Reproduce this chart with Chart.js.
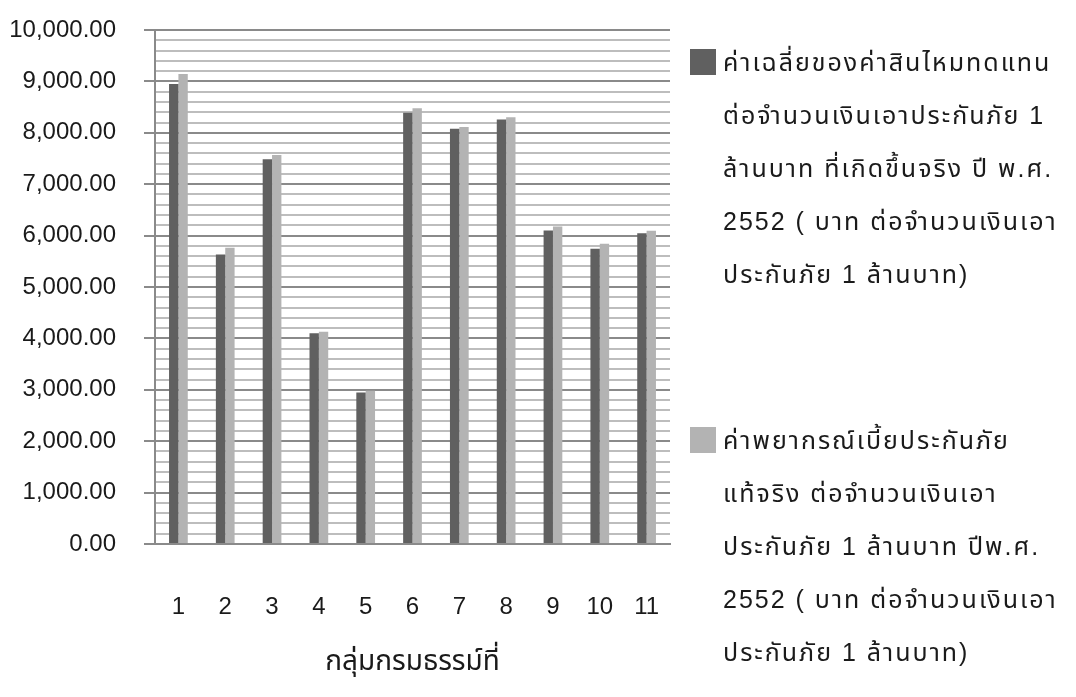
<!DOCTYPE html>
<html lang="th">
<head>
<meta charset="utf-8">
<title>กลุ่มกรมธรรม์</title>
<script src="https://cdn.jsdelivr.net/npm/chart.js@4.4.1/dist/chart.umd.min.js"></script>
<style>
  html, body { margin: 0; padding: 0; background: #fff; }
  #wrap { position: relative; width: 1076px; height: 697px; }
  #legend {
    position: absolute; left: 0; top: 0;
    font-family: "Liberation Sans", Arial, "Noto Sans Thai", "Loma", "Garuda", sans-serif;
    font-size: 25px; color: #1a1a1a; letter-spacing: 2px;
  }
  .item { position: absolute; left: 690px; }
  .box { position: absolute; left: 0; width: 26px; height: 26px; }
  .text { position: absolute; left: 33px; line-height: 53px; white-space: nowrap; }
</style>
</head>
<body>
<div id="wrap">
  <canvas id="grafica" width="1076" height="697"></canvas>
  <div id="legend"></div>
</div>
<script>
// กลุ่มกรมธรรม์ 1-11
const grupos = ['1', '2', '3', '4', '5', '6', '7', '8', '9', '10', '11'];

// ค่าเฉลี่ยสินไหมที่เกิดขึ้นจริง (บาท ต่อทุน 1 ล้านบาท)
const siniestroReal = [8947, 5633, 7485, 4100, 2949, 8388, 8080, 8261, 6101, 5745, 6045];

// ค่าพยากรณ์เบี้ยประกันภัยแท้จริง
const primaPronostico = [9142, 5764, 7570, 4127, 2982, 8478, 8115, 8304, 6177, 5842, 6094];

// ข้อความคำอธิบาย แบ่งบรรทัดไว้แล้ว
const etiquetaReal = [
  'ค่าเฉลี่ยของค่าสินไหมทดแทน',
  'ต่อจำนวนเงินเอาประกันภัย 1',
  'ล้านบาท ที่เกิดขึ้นจริง ปี พ.ศ.',
  '2552 ( บาท ต่อจำนวนเงินเอา',
  'ประกันภัย 1 ล้านบาท)'
];
const etiquetaPronostico = [
  'ค่าพยากรณ์เบี้ยประกันภัย',
  'แท้จริง ต่อจำนวนเงินเอา',
  'ประกันภัย 1 ล้านบาท ปีพ.ศ.',
  '2552 ( บาท ต่อจำนวนเงินเอา',
  'ประกันภัย 1 ล้านบาท)'
];

const tituloX = 'กลุ่มกรมธรรม์ที่';

const colorOscuro = '#606060';
const colorClaro  = '#b3b3b3';
const fuente = '"Liberation Sans", Arial, "Noto Sans Thai", "Loma", "Garuda", sans-serif';

// leyenda en HTML a la derecha (texto multilínea)
const leyendaHTML = {
  id: 'leyendaHTML',
  afterUpdate(chart) {
    const cont = document.getElementById('legend');
    cont.innerHTML = '';
    const tops = [36, 414];
    chart.data.datasets.forEach((ds, i) => {
      const item = document.createElement('div');
      item.className = 'item';
      item.style.top = tops[i] + 'px';
      const box = document.createElement('div');
      box.className = 'box';
      box.style.background = ds.backgroundColor;
      box.style.top = '13px';
      const txt = document.createElement('div');
      txt.className = 'text';
      txt.innerHTML = ds.label.join('<br>');
      item.appendChild(box);
      item.appendChild(txt);
      cont.appendChild(item);
    });
  }
};

new Chart(document.getElementById('grafica'), {
  type: 'bar',
  data: {
    labels: grupos,
    datasets: [
      { label: etiquetaReal, data: siniestroReal, backgroundColor: colorOscuro },
      { label: etiquetaPronostico, data: primaPronostico, backgroundColor: colorClaro }
    ]
  },
  options: {
    responsive: false,
    animation: false,
    categoryPercentage: 0.4,
    barPercentage: 1.0,
    layout: { padding: { top: 30, right: 406, left: 0, bottom: 0 } },
    plugins: {
      legend: { display: false },
      tooltip: { enabled: false }
    },
    scales: {
      x: {
        grid: { display: false, drawTicks: false },
        border: { color: '#8a8a8a', width: 2 },
        ticks: { color: '#1a1a1a', padding: 49, font: { family: fuente, size: 24 } },
        title: {
          display: true,
          text: tituloX,
          color: '#1a1a1a',
          font: { family: fuente, size: 28 },
          padding: { top: 0, bottom: 18 }
        },
        afterFit: (s) => { s.height = 153; }
      },
      y: {
        min: 0,
        max: 10000,
        // líneas menores cada 200, etiquetas sólo cada 1000
        ticks: {
          stepSize: 200,
          autoSkip: false,
          padding: 28,
          color: '#1a1a1a',
          font: { family: fuente, size: 24 },
          callback: (v) => v % 1000 === 0
            ? v.toLocaleString('en-US', { minimumFractionDigits: 2, maximumFractionDigits: 2 })
            : ''
        },
        grid: {
          lineWidth: 2,
          tickLength: 11,
          color: (c) => c.tick && c.tick.value % 1000 === 0 ? '#8a8a8a' : '#bdbdbd',
          tickColor: (c) => c.tick && c.tick.value % 1000 === 0 ? '#8a8a8a' : 'rgba(0,0,0,0)'
        },
        border: { color: '#8a8a8a', width: 2 },
        // ancho fijo del eje y sin relleno extra arriba/abajo
        afterFit: (s) => {
          s.width = 155;
          s.paddingTop = 0;
          s.paddingBottom = 0;
        }
      }
    }
  },
  plugins: [leyendaHTML]
});
</script>
</body>
</html>
